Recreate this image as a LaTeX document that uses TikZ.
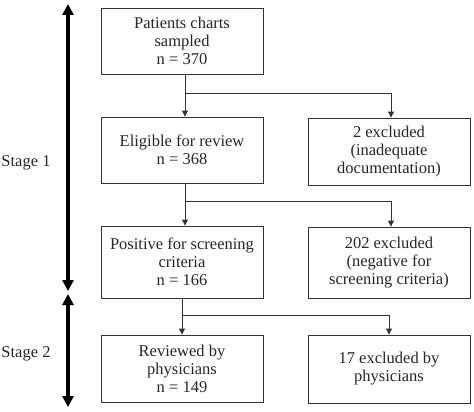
\documentclass[tikz,border=0pt]{standalone}
\usepackage{fontspec}
\setmainfont{Liberation Serif}
\usetikzlibrary{arrows.meta,calc}
\begin{document}
\begin{tikzpicture}[x=1pt,y=-1pt,
  box/.style={draw=black!80,line width=0.9pt,minimum width=162pt,align=center,inner sep=0pt,
    font=\fontsize{16.5}{18}\selectfont,text=black!85},
  conn/.style={draw=black!80,line width=0.9pt,-{Triangle[width=6pt,length=6pt]}},
  stagearr/.style={draw=black,line width=3.6pt,{Triangle[width=11pt,length=11pt]}-{Triangle[width=11pt,length=11pt]}},
  lbl/.style={font=\fontsize{16.5}{18}\selectfont,text=black!85}]
\useasboundingbox (0,0) rectangle (474,412);
\node[box,minimum height=66pt] (L1) at (182,41) {Patients charts\\sampled\\n = 370};
\node[box,minimum height=66pt] (L2) at (182,150) {Eligible for review\\n = 368};
\node[box,minimum height=72pt] (L3) at (182,262) {Positive for screening\\criteria\\n = 166};
\node[box,minimum height=67pt] (L4) at (182,368.5) {Reviewed by\\physicians\\n = 149};
\node[box,minimum height=67pt] (R1) at (389,151.5) {2 excluded\\(inadequate\\documentation)};
\node[box,minimum height=71pt] (R2) at (389,262.5) {202 excluded\\(negative for\\screening criteria)};
\node[box,minimum height=68pt] (R3) at (389,369) {17 excluded by\\physicians};
\draw[conn] ([xshift=3pt]L1.south) -- ([xshift=3pt]L2.north);
\draw[conn] ([xshift=3pt]L2.south) -- ([xshift=3pt]L3.north);
\draw[conn] (L3) -- (L4);
\coordinate (b1) at ($([xshift=3pt]L1.south)!0.44!([xshift=3pt]L2.north)$);
\coordinate (b2) at ($([xshift=3pt]L2.south)!0.43!([xshift=3pt]L3.north)$);
\coordinate (b3) at ($(L3.south)!0.48!(L4.north)$);
\draw[conn] (b1) -| ([xshift=2pt]R1.north);
\draw[conn] (b2) -| ([xshift=2pt]R2.north);
\draw[conn] (b3) -| (R3.north);
\coordinate (s1t) at (68,4);
\coordinate (s1b) at (68,291);
\coordinate (s2t) at (68,294);
\coordinate (s2b) at (68,407);
\draw[stagearr] (s1t) -- (s1b);
\draw[stagearr] (s2t) -- (s2b);
\node[lbl] (st1) at (26,163) {Stage 1};
\node[lbl] (st2) at (26,354) {Stage 2};
\end{tikzpicture}
\end{document}
